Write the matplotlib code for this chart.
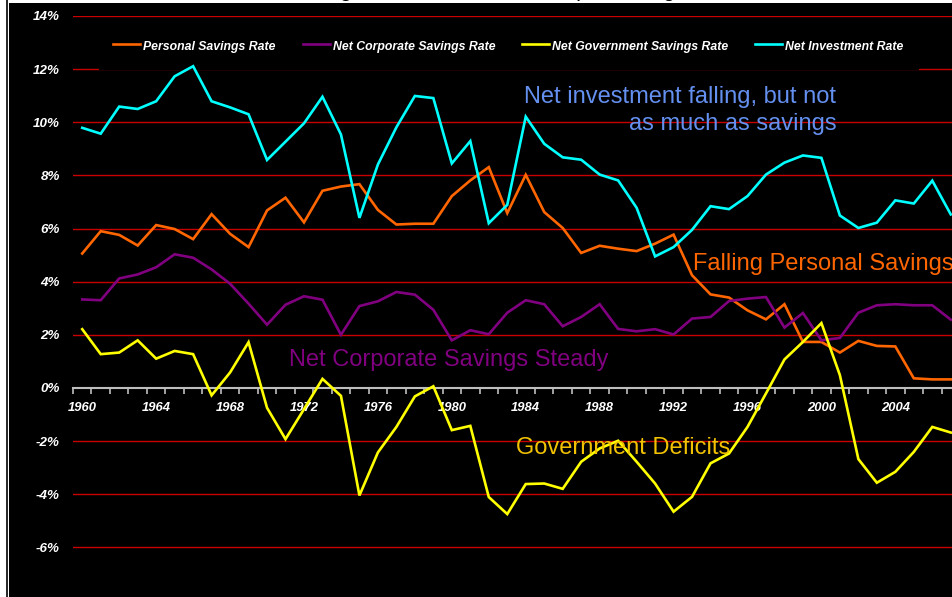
import matplotlib
matplotlib.use("Agg")
import matplotlib.pyplot as plt
from matplotlib.patches import Rectangle
from matplotlib.lines import Line2D
from matplotlib.ticker import FixedLocator, FuncFormatter

plt.rcParams['font.family'] = ['Liberation Sans', 'DejaVu Sans']

years = list(range(1960, 2008))
personal = [5.06, 5.90, 5.76, 5.36, 6.13, 5.98, 5.60, 6.54, 5.80, 5.30,
            6.68, 7.16, 6.23, 7.42, 7.58, 7.67, 6.70, 6.15, 6.18, 6.18,
            7.22, 7.81, 8.31, 6.58, 8.02, 6.62, 6.02, 5.08, 5.35, 5.24,
            5.15, 5.43, 5.77, 4.24, 3.52, 3.40, 2.92, 2.58, 3.15, 1.73,
            1.73, 1.33, 1.77, 1.58, 1.56, 0.36, 0.32, 0.32]
corporate = [3.33, 3.30, 4.12, 4.27, 4.54, 5.03, 4.90, 4.46, 3.92, 3.17,
             2.38, 3.13, 3.45, 3.32, 2.00, 3.08, 3.26, 3.61, 3.51, 2.94,
             1.79, 2.17, 2.02, 2.83, 3.30, 3.15, 2.32, 2.67, 3.15, 2.22,
             2.13, 2.21, 2.01, 2.61, 2.67, 3.27, 3.36, 3.42, 2.27, 2.82,
             1.79, 1.88, 2.83, 3.11, 3.15, 3.11, 3.11, 2.57]
government = [2.21, 1.27, 1.33, 1.79, 1.10, 1.39, 1.27, -0.28, 0.58, 1.72,
              -0.75, -1.93, -0.80, 0.34, -0.30, -4.05, -2.43, -1.47, -0.32, 0.06,
              -1.59, -1.43, -4.11, -4.75, -3.62, -3.60, -3.80, -2.78, -2.28, -1.99,
              -2.78, -3.60, -4.66, -4.10, -2.84, -2.47, -1.47, -0.21, 1.07, 1.73,
              2.44, 0.48, -2.68, -3.57, -3.16, -2.41, -1.47, -1.68]
investment = [9.79, 9.57, 10.59, 10.50, 10.79, 11.73, 12.11, 10.79, 10.56, 10.30,
              8.58, 9.27, 9.96, 10.96, 9.54, 6.40, 8.41, 9.81, 10.99, 10.91,
              8.45, 9.29, 6.20, 6.89, 10.21, 9.19, 8.68, 8.59, 8.03, 7.81,
              6.78, 4.95, 5.30, 5.95, 6.84, 6.73, 7.22, 8.03, 8.48, 8.75,
              8.66, 6.49, 6.02, 6.22, 7.06, 6.94, 7.80, 6.53]

series_names = ["Personal Savings Rate", "Net Corporate Savings Rate",
                "Net Government Savings Rate", "Net Investment Rate"]
series_colors = ["#FF6600", "#800080", "#FFFF00", "#00FFFF"]
year_labels = [1960, 1964, 1968, 1972, 1976, 1980, 1984, 1988, 1992, 1996, 2000, 2004]
y_ticks = [-6, -4, -2, 0, 2, 4, 6, 8, 10, 12, 14]

W, H = 953, 597
fig = plt.figure(figsize=(W / 100, H / 100), dpi=100, facecolor="white")

# black panel and left border
fig.patches.append(Rectangle((9 / W, 0), 1, (H - 3) / H, transform=fig.transFigure,
                             facecolor="black", edgecolor="none", zorder=-5))
fig.lines.append(Line2D([6.5 / W, 6.5 / W], [0, 1], transform=fig.transFigure,
                        color="black", lw=1.2, zorder=-4))

# title (mostly above the visible area)
fig.text(0.53, 1.0 + 4.2 / H, "Net Savings and Investment as a percentage of GDP",
         ha="center", va="baseline", fontsize=16, color="black")

ax_left, ax_right = 73, 960
ax_top, ax_bottom = 16, 600.4
ax = fig.add_axes([ax_left / W, (H - ax_bottom) / H, (ax_right - ax_left) / W,
                   (ax_bottom - ax_top) / H])
ax.set_facecolor("none")
ax.set_xlim(1959.5, 2007.5)
ax.set_ylim(-8, 14)

for v in y_ticks + [-8]:
    if v != 0:
        ax.axhline(v, color="#C80000", lw=1.0, zorder=1)

for vals, name, col in zip([personal, corporate, government, investment],
                           series_names, series_colors):
    ax.plot(years, vals, color=col, lw=1.9, label=name, zorder=3,
            solid_joinstyle="miter")

for s in ["top", "right", "left"]:
    ax.spines[s].set_visible(False)
ax.spines["bottom"].set_position(("data", 0))
ax.spines["bottom"].set_color("#BEBEBE")
ax.spines["bottom"].set_linewidth(1.5)
ax.spines["bottom"].set_zorder(2)

ax.xaxis.set_major_locator(FixedLocator(year_labels))
ax.xaxis.set_minor_locator(FixedLocator([y - 0.5 for y in years] + [2007.5]))
ax.tick_params(axis="x", which="major", length=0, pad=10, labelcolor="white",
               labelsize=9.4)
ax.tick_params(axis="x", which="minor", length=4.5, width=1.2, color="#BEBEBE",
               direction="out")
ax.yaxis.set_major_locator(FixedLocator(y_ticks))
ax.yaxis.set_major_formatter(FuncFormatter(lambda v, p: f"{v:.0f}%"))
ax.tick_params(axis="y", length=0, pad=9.5, labelcolor="white", labelsize=9.6)
for lab in ax.get_xticklabels() + ax.get_yticklabels():
    lab.set_fontweight("bold")
    lab.set_fontstyle("italic")

leg = ax.legend(ncol=4, loc="center", bbox_to_anchor=(508.5 / W, (H - 46.5) / H),
                bbox_transform=fig.transFigure, frameon=True, facecolor="black",
                edgecolor="black", framealpha=1, fancybox=False,
                prop={"weight": "bold", "style": "italic", "size": 8.8},
                handlelength=2.2, handletextpad=0.25, columnspacing=2.2,
                borderpad=1.15, handleheight=1.7)
for t in leg.get_texts():
    t.set_color("white")
leg.set_zorder(2.5)

ax.text(2000.8, 10.45, "Net investment falling, but not\nas much as savings",
        ha="right", va="center", multialignment="right", color="#6490F0",
        fontsize=17, linespacing=1.28, zorder=4)
ax.text(1993.05, 4.65, "Falling Personal Savings", ha="left", va="center",
        color="#FF6600", fontsize=17, zorder=4)
ax.text(1971.17, 1.04, "Net Corporate Savings Steady", ha="left", va="center",
        color="#800080", fontsize=17, zorder=4)
ax.text(1983.46, -2.28, "Government Deficits", ha="left", va="center",
        color="#F2C200", fontsize=17, zorder=4)

fig.savefig("out.png", dpi=100, facecolor="white")
